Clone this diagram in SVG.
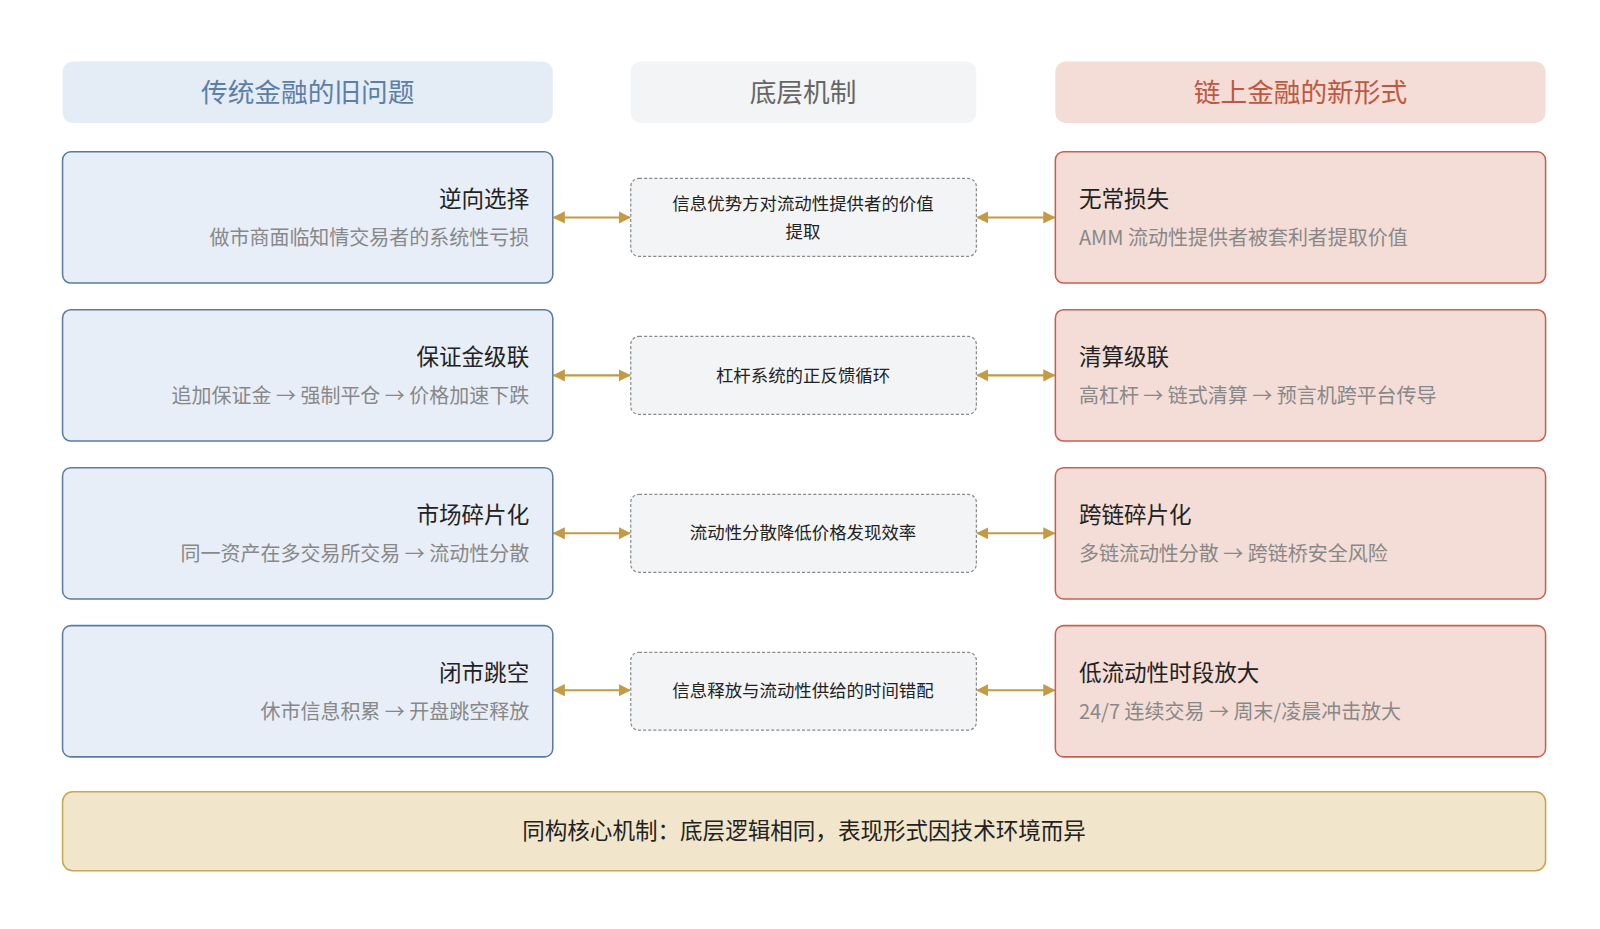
<svg xmlns="http://www.w3.org/2000/svg" width="1600" height="929" viewBox="0 0 1600 929">
<style>
text{font-family:"Noto Sans CJK SC","Noto Sans",sans-serif}
.hl{fill:#e4ecf5}.hm{fill:#f3f4f6}.hr{fill:#f3ddd6}
.l{fill:#e7eef7;stroke:#5b7ba3;stroke-width:1.5}
.r{fill:#f3ddd6;stroke:#c9604f;stroke-width:1.5}
.m{fill:#f3f4f6;stroke:#8a8a8a;stroke-width:1.2;stroke-dasharray:3 2}
.t{font-size:22px;fill:#222}
.s{font-size:19.5px;fill:#888}
.mt{font-size:17px;fill:#222;text-anchor:middle}
.c{stroke:#c49a45;stroke-width:2;fill:none;marker-start:url(#a);marker-end:url(#a)}
</style>
<defs><marker id="a" viewBox="0 0 10 10" refX="9" refY="5" markerWidth="6" markerHeight="6" orient="auto-start-reverse"><path d="M0,0L10,5L0,10z" fill="#c49a45"/></marker></defs>
<g transform="scale(1.0256)">
<g id="headers">
<rect class="hl" x="61" y="60" width="478" height="60" rx="10"/><text x="300" y="99" font-size="26" fill="#5b80a8" text-anchor="middle">传统金融的旧问题</text>
<rect class="hm" x="615" y="60" width="337" height="60" rx="10"/><text x="783" y="99" font-size="26" fill="#666" text-anchor="middle">底层机制</text>
<rect class="hr" x="1029" y="60" width="478" height="60" rx="10"/><text x="1268" y="99" font-size="26" fill="#c0573f" text-anchor="middle">链上金融的新形式</text>
</g>
<g id="connectors">
<path class="c" d="M540,212H614"/><path class="c" d="M953,212H1028"/>
<path class="c" d="M540,366H614"/><path class="c" d="M953,366H1028"/>
<path class="c" d="M540,520H614"/><path class="c" d="M953,520H1028"/>
<path class="c" d="M540,673H614"/><path class="c" d="M953,673H1028"/>
</g>
<g id="l1"><rect class="l" x="61" y="148" width="478" height="128" rx="8"/><text class="t" x="516" y="202" text-anchor="end">逆向选择</text><text class="s" x="516" y="239" text-anchor="end">做市商面临知情交易者的系统性亏损</text></g>
<g id="l2"><rect class="l" x="61" y="302" width="478" height="128" rx="8"/><text class="t" x="516" y="356" text-anchor="end">保证金级联</text><text class="s" x="516" y="393" text-anchor="end">追加保证金 → 强制平仓 → 价格加速下跌</text></g>
<g id="l3"><rect class="l" x="61" y="456" width="478" height="128" rx="8"/><text class="t" x="516" y="510" text-anchor="end">市场碎片化</text><text class="s" x="516" y="547" text-anchor="end">同一资产在多交易所交易 → 流动性分散</text></g>
<g id="l4"><rect class="l" x="61" y="610" width="478" height="128" rx="8"/><text class="t" x="516" y="664" text-anchor="end">闭市跳空</text><text class="s" x="516" y="701" text-anchor="end">休市信息积累 → 开盘跳空释放</text></g>
<g id="m1"><rect class="m" x="615" y="174" width="337" height="76" rx="8"/><text class="mt" x="783" y="205">信息优势方对流动性提供者的价值</text><text class="mt" x="783" y="232">提取</text></g>
<g id="m2"><rect class="m" x="615" y="328" width="337" height="76" rx="8"/><text class="mt" x="783" y="372">杠杆系统的正反馈循环</text></g>
<g id="m3"><rect class="m" x="615" y="482" width="337" height="76" rx="8"/><text class="mt" x="783" y="526">流动性分散降低价格发现效率</text></g>
<g id="m4"><rect class="m" x="615" y="636" width="337" height="76" rx="8"/><text class="mt" x="783" y="680">信息释放与流动性供给的时间错配</text></g>
<g id="r1"><rect class="r" x="1029" y="148" width="478" height="128" rx="8"/><text class="t" x="1052" y="202">无常损失</text><text class="s" x="1052" y="239">AMM 流动性提供者被套利者提取价值</text></g>
<g id="r2"><rect class="r" x="1029" y="302" width="478" height="128" rx="8"/><text class="t" x="1052" y="356">清算级联</text><text class="s" x="1052" y="393">高杠杆 → 链式清算 → 预言机跨平台传导</text></g>
<g id="r3"><rect class="r" x="1029" y="456" width="478" height="128" rx="8"/><text class="t" x="1052" y="510">跨链碎片化</text><text class="s" x="1052" y="547">多链流动性分散 → 跨链桥安全风险</text></g>
<g id="r4"><rect class="r" x="1029" y="610" width="478" height="128" rx="8"/><text class="t" x="1052" y="664">低流动性时段放大</text><text class="s" x="1052" y="701">24/7 连续交易 → 周末/凌晨冲击放大</text></g>
<g id="bottom"><rect x="61" y="772" width="1446" height="77" rx="10" fill="#f1e6cb" stroke="#c9a74f" stroke-width="1.5"/><text x="784" y="818" font-size="22" fill="#222" text-anchor="middle">同构核心机制：底层逻辑相同，表现形式因技术环境而异</text></g>
</g>
</svg>
